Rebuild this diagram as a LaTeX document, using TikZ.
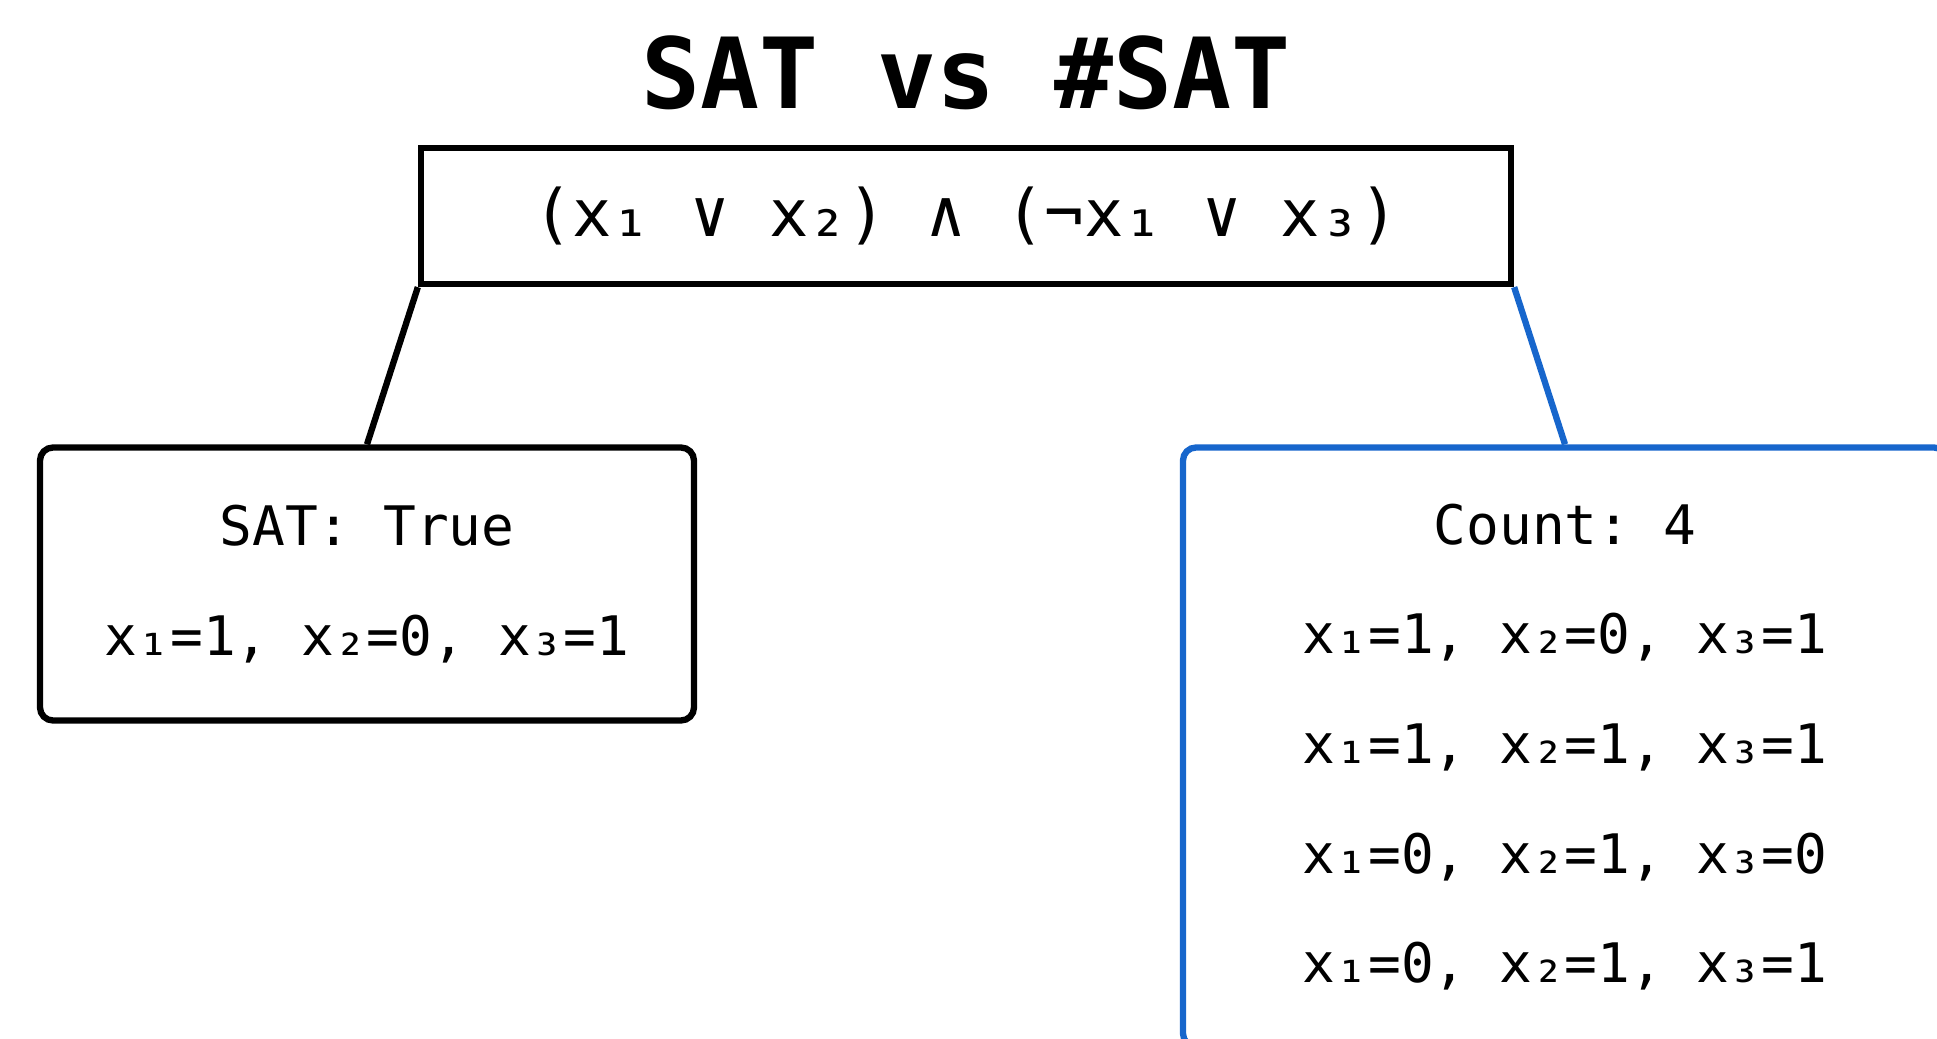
\documentclass[tikz,border=0pt]{standalone}
\usepackage{fontspec}
\setmonofont{DejaVu Sans Mono}
\usepackage{tikz}
\usetikzlibrary{positioning,calc}
\usepackage{xcolor}
\definecolor{CntBlue}{HTML}{1766CC}

\begin{document}
\begin{tikzpicture}[x=0.1mm, y=-0.1mm, font=\ttfamily,
    formbox/.style={draw, line width=1.8pt, minimum width=10.9cm, minimum height=1.36cm, inner sep=0pt},
    resbox/.style={draw, line width=1.8pt, rounded corners=1.3mm, align=center, inner sep=0pt,
      font=\ttfamily\fontsize{15.5}{31.2}\selectfont}]
        \useasboundingbox (0,0) rectangle (1937,1039);
        \clip (0,0) rectangle (1937,1039);
        \node (title) at (966,73) {\fontsize{27.9}{34}\selectfont\bfseries SAT vs \#SAT};
        \node[formbox] (form) at (966,216) {\fontsize{18.6}{22}\selectfont (x₁ ∨ x₂) ∧ (¬x₁ ∨ x₃)};
        \node[resbox, minimum width=6.54cm, minimum height=2.73cm] (sat) at (367,584) {SAT: True\\x₁=1, x₂=0, x₃=1};
        \node[resbox, CntBlue, text=black, minimum width=7.64cm, minimum height=5.99cm] (cnt) at (1565,747)
          {Count: 4\\x₁=1, x₂=0, x₃=1\\x₁=1, x₂=1, x₃=1\\x₁=0, x₂=1, x₃=0\\x₁=0, x₂=1, x₃=1};
        \draw[line width=1.8pt] (form.south west) -- (sat.north);
        \draw[line width=1.8pt, CntBlue] (form.south east) -- (cnt.north);
      \end{tikzpicture}
\end{document}
